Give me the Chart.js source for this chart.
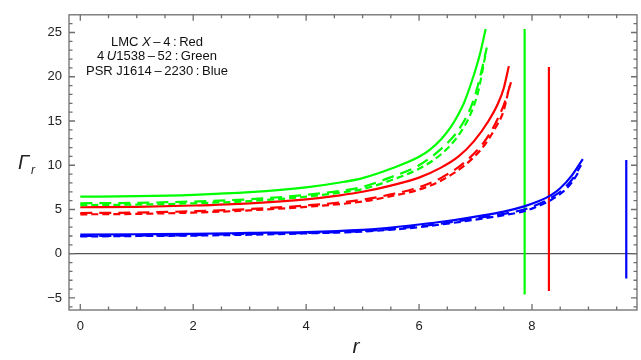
<!DOCTYPE html>
<html>
<head>
<meta charset="utf-8">
<script src="https://cdn.jsdelivr.net/npm/chart.js@4"></script>
<style>
  html, body { margin: 0; padding: 0; background: #fff; }
  #wrap { width: 641px; height: 360px; }
</style>
</head>
<body>
<div id="wrap"><canvas id="chart" width="641" height="360"></canvas></div>
<script>
// values (r, Gamma_r)
const rGreenSolid = [0, 1, 2, 3, 4, 4.6, 5, 5.5, 6, 6.2, 6.4, 6.56, 6.7, 6.8, 6.97, 7.08, 7.18];
const gGreenSolid = [6.45, 6.5, 6.65, 6.95, 7.5, 8.05, 8.55, 9.6, 10.95, 11.8, 13.0, 14.3, 15.8, 17.1, 20.2, 22.6, 25.4];
const rGreenLong = [0, 1, 2, 3, 4, 4.6, 5, 5.5, 6, 6.4, 6.7, 6.92, 7.05, 7.2];
const gGreenLong = [5.7, 5.75, 5.9, 6.15, 6.65, 7.1, 7.55, 8.65, 10.0, 11.9, 14.0, 16.6, 19.2, 23.3];
const rGreenShort = [0, 1, 2, 3, 4, 4.6, 5, 5.5, 6, 6.4, 6.7, 6.92, 7.05, 7.18];
const gGreenShort = [5.5, 5.55, 5.7, 5.95, 6.45, 6.9, 7.3, 8.3, 9.6, 11.3, 13.4, 15.9, 18.4, 22.6];

const rRedSolid = [0, 1, 2, 3, 4, 4.6, 5, 5.5, 6, 6.38, 6.7, 6.97, 7.23, 7.4, 7.5, 7.59];
const gRedSolid = [5.25, 5.3, 5.45, 5.7, 6.15, 6.6, 7.0, 7.7, 8.6, 9.7, 11.0, 12.7, 15.0, 17.0, 18.7, 21.2];
const rRedLong = [0, 1, 2, 3, 4, 5, 5.5, 6, 6.4, 6.8, 7.15, 7.35, 7.5, 7.63];
const gRedLong = [4.6, 4.65, 4.8, 5.05, 5.45, 6.1, 6.7, 7.5, 8.6, 10.3, 12.6, 14.7, 16.8, 19.4];
const rRedShort = [0, 1, 2, 3, 4, 5, 5.5, 6, 6.4, 6.8, 7.15, 7.35, 7.5, 7.6];
const gRedShort = [4.45, 4.5, 4.65, 4.9, 5.3, 5.9, 6.5, 7.25, 8.3, 9.95, 12.2, 14.2, 16.2, 18.9];

const rBlueSolid = [0, 1, 2, 3, 4, 5, 5.32, 6, 6.5, 7, 7.5, 7.86, 8.1, 8.33, 8.5, 8.7, 8.9];
const gBlueSolid = [2.15, 2.2, 2.25, 2.35, 2.45, 2.7, 2.85, 3.3, 3.7, 4.2, 4.75, 5.35, 5.9, 6.6, 7.4, 8.8, 10.7];
const rBlueLong = [0, 1, 2, 3, 4, 5, 6, 6.5, 7, 7.5, 7.86, 8.1, 8.33, 8.5, 8.7, 8.87];
const gBlueLong = [2.0, 2.05, 2.1, 2.25, 2.35, 2.55, 3.1, 3.5, 4.0, 4.5, 5.0, 5.55, 6.3, 7.0, 8.3, 10.0];
const rBlueShort = [0, 1, 2, 3, 4, 5, 6, 6.5, 7, 7.5, 7.86, 8.1, 8.33, 8.5, 8.7, 8.85];
const gBlueShort = [1.95, 2.0, 2.05, 2.15, 2.3, 2.5, 3.0, 3.4, 3.85, 4.35, 4.8, 5.35, 6.05, 6.75, 8.0, 9.5];

// vertical segments: [r, bottom, top]
const greenBar = [7.87, -4.6, 25.4];
const redBar = [8.3, -4.2, 21.1];
const blueBar = [9.67, -2.8, 10.6];

const xTicks = [0, 2, 4, 6, 8];
const yTicks = [-5, 0, 5, 10, 15, 20, 25];
const legendLines = [
  [["LMC ", false], ["X", true], ["\u2009\u2013\u20094\u2009:\u2009Red", false]],
  [["4\u2009", false], ["U", true], ["1538\u2009\u2013\u200952\u2009:\u2009Green", false]],
  [["PSR J1614\u2009\u2013\u20092230\u2009:\u2009Blue", false]]
];

const GREEN = '#00ff00', RED = '#ff0000', BLUE = '#0000ff';
const LONG = [12, 7], SHORT = [7, 4];

function pts(rs, gs) { return rs.map((r, i) => ({ x: r, y: gs[i] })); }
function bar(b) { return [{ x: b[0], y: b[1] }, { x: b[0], y: b[2] }]; }
function curve(data, color, dash) {
  return { data: data, borderColor: color, borderWidth: 2.2, borderDash: dash || [],
           pointRadius: 0, fill: false, cubicInterpolationMode: 'monotone' };
}

const framePlugin = {
  id: 'frame',
  afterDraw(chart) {
    const ctx = chart.ctx, a = chart.chartArea;
    const x = chart.scales.x, y = chart.scales.y;
    ctx.save();
    ctx.strokeStyle = '#6e6e6e';
    ctx.lineWidth = 1.3;
    ctx.strokeRect(a.left, a.top, a.right - a.left, a.bottom - a.top);
    ctx.beginPath();
    for (let v = 0; v <= 9.6; v += 0.5) {
      const px = x.getPixelForValue(v);
      const len = (Math.round(v * 2) % 4 === 0) ? 6 : 3.5;
      ctx.moveTo(px, a.bottom); ctx.lineTo(px, a.bottom - len);
      ctx.moveTo(px, a.top); ctx.lineTo(px, a.top + len);
    }
    for (let v = -6; v <= 26; v += 1) {
      const py = y.getPixelForValue(v);
      const len = (v % 5 === 0) ? 6 : 3.5;
      ctx.moveTo(a.left, py); ctx.lineTo(a.left + len, py);
      ctx.moveTo(a.right, py); ctx.lineTo(a.right - len, py);
    }
    ctx.stroke();

    // legend text
    ctx.fillStyle = '#111';
    ctx.textBaseline = 'middle';
    const cx = 157, y0 = 42, dy = 14.5;
    const fnt = it => (it ? 'italic ' : '') + '13px "Liberation Sans", Arial, sans-serif';
    legendLines.forEach((parts, i) => {
      let w = 0;
      parts.forEach(p => { ctx.font = fnt(p[1]); w += ctx.measureText(p[0]).width; });
      let px = cx - w / 2;
      parts.forEach(p => {
        ctx.font = fnt(p[1]);
        ctx.textAlign = 'left';
        ctx.fillText(p[0], px, y0 + i * dy);
        px += ctx.measureText(p[0]).width;
      });
    });

    // axis labels
    ctx.fillStyle = '#222';
    ctx.font = 'italic 20px "Liberation Sans", Arial, sans-serif';
    ctx.textAlign = 'left';
    ctx.fillText('\u0393', 18, 163);
    ctx.font = 'italic 12px "Liberation Sans", Arial, sans-serif';
    ctx.fillText('r', 31, 171);
    ctx.font = 'italic 21px "Liberation Sans", Arial, sans-serif';
    ctx.textAlign = 'center';
    ctx.fillText('r', 356, 347);
    ctx.restore();
  }
};

const tickFont = { family: '"Liberation Sans", Arial, sans-serif', size: 13 };

new Chart(document.getElementById('chart'), {
  type: 'line',
  data: {
    datasets: [
      curve(pts(rGreenSolid, gGreenSolid), GREEN),
      curve(pts(rGreenLong, gGreenLong), GREEN, LONG),
      curve(pts(rGreenShort, gGreenShort), GREEN, SHORT),
      curve(pts(rRedSolid, gRedSolid), RED),
      curve(pts(rRedLong, gRedLong), RED, LONG),
      curve(pts(rRedShort, gRedShort), RED, SHORT),
      curve(pts(rBlueSolid, gBlueSolid), BLUE),
      curve(pts(rBlueLong, gBlueLong), BLUE, LONG),
      curve(pts(rBlueShort, gBlueShort), BLUE, SHORT),
      curve(bar(greenBar), GREEN),
      curve(bar(redBar), RED),
      curve(bar(blueBar), BLUE)
    ]
  },
  options: {
    responsive: false,
    animation: false,
    layout: { padding: { top: 11, right: 4, left: 0, bottom: 0 } },
    plugins: { legend: { display: false }, tooltip: { enabled: false } },
    scales: {
      x: {
        type: 'linear', min: -0.2, max: 9.86,
        afterBuildTicks: s => { s.ticks = xTicks.map(v => ({ value: v })); },
        afterFit: s => { s.height = 50; },
        grid: { display: false, drawTicks: false },
        border: { display: false },
        ticks: { padding: 9, color: '#222', maxRotation: 0, font: tickFont }
      },
      y: {
        type: 'linear', min: -6.36, max: 27.0,
        afterBuildTicks: s => { s.ticks = yTicks.map(v => ({ value: v })); },
        afterFit: s => { s.width = 69; },
        grid: { drawTicks: false, lineWidth: 1.2,
                color: c => c.tick && c.tick.value === 0 ? '#555' : 'rgba(0,0,0,0)' },
        border: { display: false },
        ticks: { padding: 7, color: '#222', font: tickFont,
                 callback: v => (v < 0 ? '\u2212' + Math.abs(v) : String(v)) }
      }
    }
  },
  plugins: [framePlugin]
});
</script>
</body>
</html>
